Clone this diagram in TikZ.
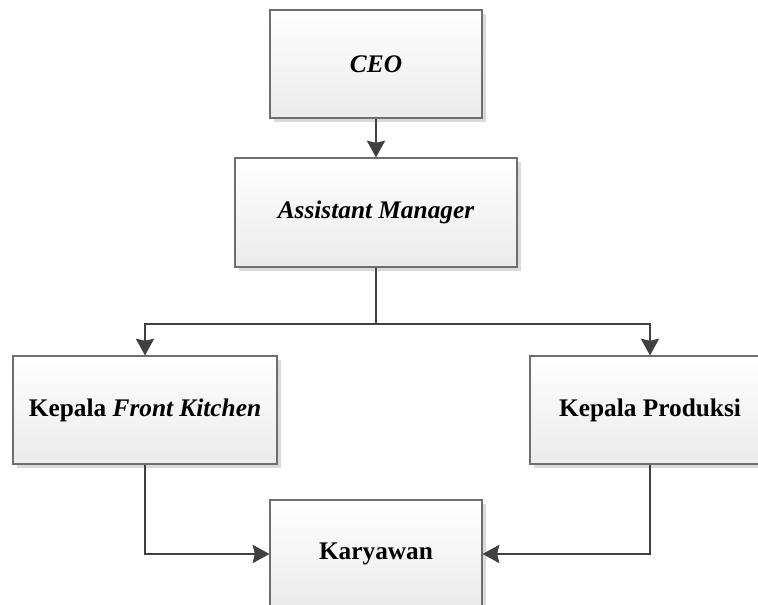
\documentclass[tikz,border=0pt]{standalone}
\usepackage{fontspec}
\setmainfont{Liberation Serif}
\usetikzlibrary{arrows.meta,shadows}
\definecolor{boxborder}{HTML}{6E6E6E}
\definecolor{boxbot}{HTML}{EBEBEB}
\definecolor{shadowgray}{HTML}{DADADA}
\definecolor{linegray}{HTML}{404040}
\begin{document}
\begin{tikzpicture}[x=0.75pt,y=-0.75pt,
  orgbox/.style={draw=boxborder, line width=0.8pt, top color=white, bottom color=boxbot,
    drop shadow={shadow xshift=3pt, shadow yshift=-3pt, fill=shadowgray, opacity=1},
    inner sep=0pt, align=center, font=\fontsize{19}{23}\selectfont\bfseries},
  conn/.style={draw=linegray, line width=1.8pt, -{Stealth[length=12.5pt,width=13.5pt,inset=1.5pt]}},
  plain/.style={draw=linegray, line width=1.8pt}
]
\useasboundingbox (0,0) rectangle (758,605);
\clip (0,0) rectangle (758,605);
\node[orgbox, minimum width=159pt, minimum height=81pt] (ceo) at (376,64) {\itshape CEO};
\node[orgbox, minimum width=211.5pt, minimum height=81.75pt] (am) at (376,212.5) {\itshape Assistant Manager};
\node[orgbox, minimum width=198pt, minimum height=81pt] (fk) at (145,410) {Kepala \textit{Front Kitchen}};
\node[orgbox, minimum width=180pt, minimum height=81pt] (pr) at (650,410) {Kepala Produksi};
\node[orgbox, minimum width=159pt, minimum height=81pt] (kr) at (376,554) {Karyawan};
\coordinate (split) at (376,324);
\draw[conn] (ceo) -- (am);
\draw[plain] (am) -- (split);
\draw[conn] (split) -| (fk);
\draw[conn] (split) -| (pr);
\draw[conn] (fk) |- (kr);
\draw[conn] (pr) |- (kr);
\end{tikzpicture}
\end{document}
